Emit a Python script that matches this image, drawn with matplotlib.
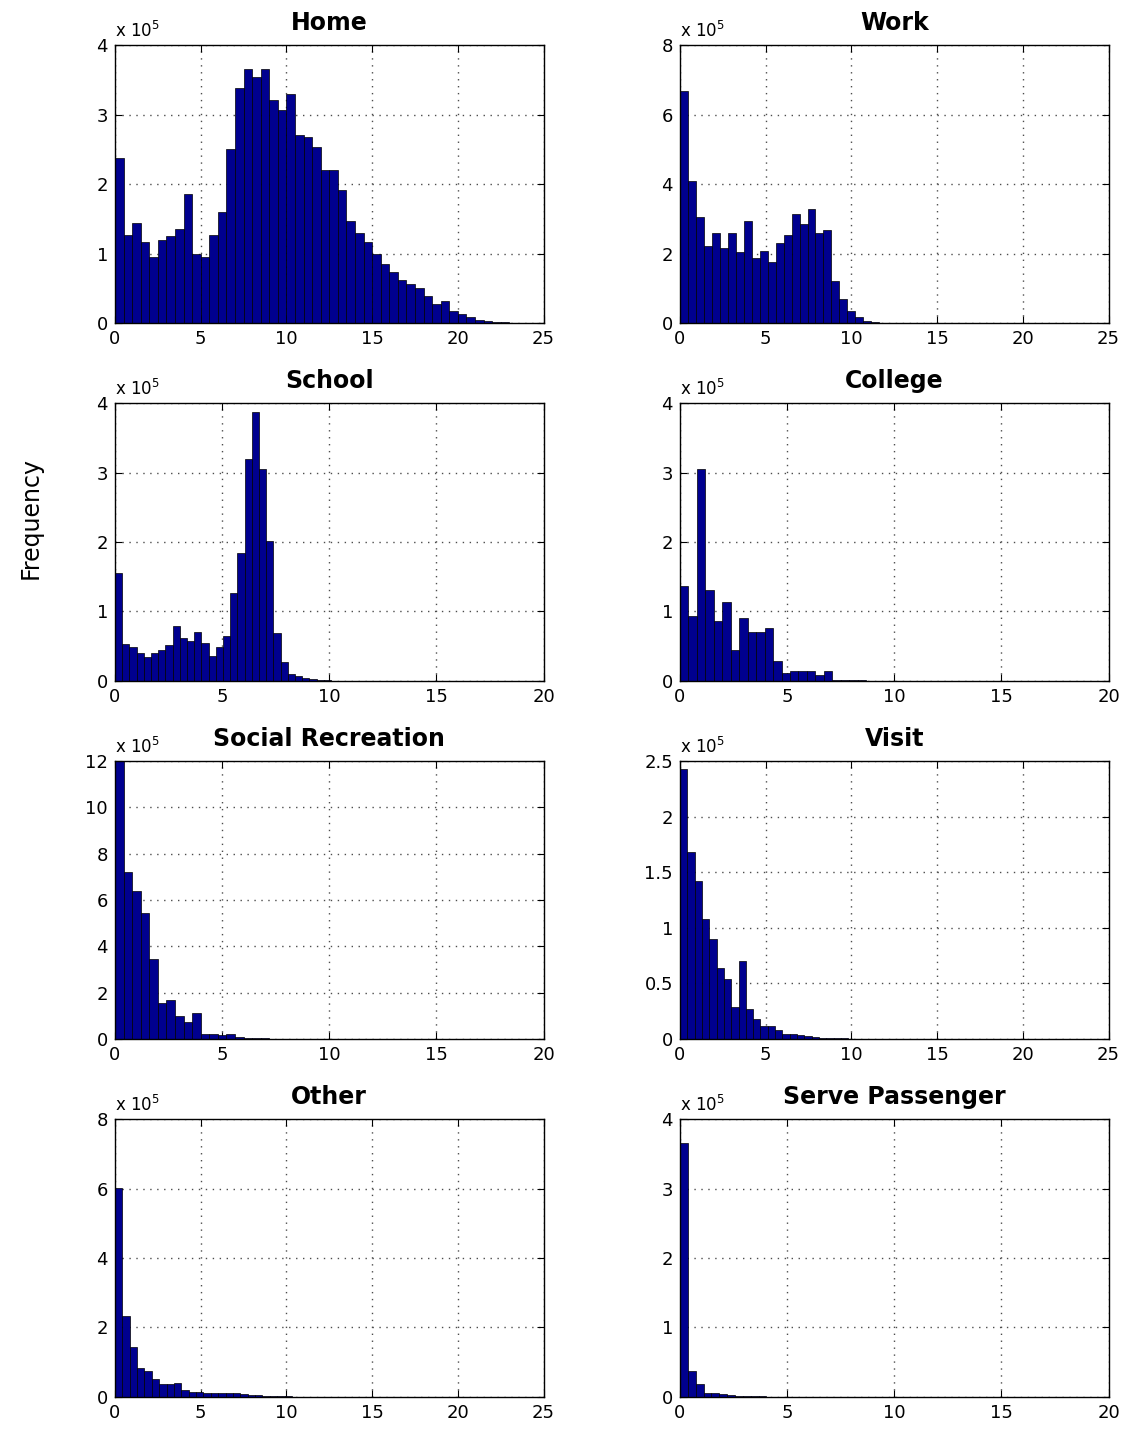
import matplotlib
matplotlib.use("Agg")
import matplotlib.pyplot as plt
import numpy as np

# histogram counts, in units of 1e5 trips; bins start at 0
titles = ["Home", "Work", "School", "College",
          "Social Recreation", "Visit", "Other", "Serve Passenger"]

home = [2.37, 1.26, 1.44, 1.17, 0.95, 1.20, 1.25, 1.35, 1.85, 1.00,
        0.95, 1.27, 1.60, 2.50, 3.38, 3.65, 3.54, 3.65, 3.21, 3.07,
        3.30, 2.71, 2.67, 2.54, 2.20, 2.20, 1.92, 1.47, 1.29, 1.17,
        1.00, 0.85, 0.73, 0.62, 0.56, 0.51, 0.39, 0.28, 0.31, 0.17,
        0.13, 0.09, 0.05, 0.03, 0.015, 0.01, 0.005, 0.003, 0.002, 0.001]
work = [6.68, 4.10, 3.04, 2.23, 2.59, 2.16, 2.59, 2.04, 2.94, 1.87,
        2.07, 1.76, 2.30, 2.52, 3.13, 2.84, 3.29, 2.59, 2.67, 1.20,
        0.69, 0.35, 0.16, 0.07, 0.02, 0.01, 0.008, 0.006, 0.005, 0.004,
        0.003, 0.003, 0.002, 0.002, 0.002, 0.001, 0.001, 0.001, 0.001, 0.001]
school = [1.55, 0.53, 0.49, 0.40, 0.35, 0.40, 0.45, 0.52, 0.79, 0.62,
          0.58, 0.70, 0.55, 0.36, 0.49, 0.65, 1.27, 1.84, 3.20, 3.87,
          3.05, 2.02, 0.69, 0.27, 0.10, 0.07, 0.05, 0.035, 0.02, 0.01,
          0.006, 0.004, 0.003, 0.002, 0.001]
college = [1.37, 0.94, 3.05, 1.31, 0.86, 1.14, 0.45, 0.90, 0.71, 0.70,
           0.76, 0.29, 0.12, 0.15, 0.15, 0.15, 0.09, 0.14, 0.02, 0.02,
           0.015, 0.01, 0.005, 0.003, 0.002]
social = [12.3, 7.22, 6.38, 5.42, 3.46, 1.56, 1.70, 1.01, 0.72, 1.12,
          0.23, 0.23, 0.16, 0.22, 0.07, 0.05, 0.03, 0.02, 0.015, 0.01,
          0.008, 0.006, 0.004, 0.003, 0.002]
visit = [2.43, 1.68, 1.42, 1.08, 0.90, 0.64, 0.54, 0.29, 0.70, 0.27,
         0.18, 0.12, 0.12, 0.084, 0.048, 0.042, 0.033, 0.024, 0.018, 0.012,
         0.009, 0.006, 0.005, 0.004, 0.003, 0.002, 0.002, 0.001]
other = [6.02, 2.34, 1.43, 0.84, 0.74, 0.53, 0.37, 0.37, 0.39, 0.19,
         0.15, 0.14, 0.12, 0.11, 0.11, 0.12, 0.10, 0.08, 0.07, 0.05,
         0.04, 0.03, 0.02, 0.015, 0.01, 0.008, 0.005, 0.003]
serve = [3.66, 0.376, 0.19, 0.063, 0.053, 0.04, 0.03, 0.02, 0.015, 0.01,
         0.008, 0.006, 0.004, 0.003, 0.002]

counts = [home, work, school, college, social, visit, other, serve]
bin_width = [0.5, 0.465, 0.336, 0.395, 0.40, 0.427, 0.43, 0.367]
xmax = [25, 25, 20, 20, 20, 25, 25, 20]
ymax = [4, 8, 4, 4, 12, 2.5, 8, 4]
ystep = [1, 2, 1, 1, 2, 0.5, 2, 1]

bar_color = "#00008f"

fig = plt.figure(figsize=(11.25, 14.4), dpi=100)
lefts = [0.1022, 0.6044]
# rows a little tighter than the original so the bottom tick labels fit
bottoms = [0.7757, 0.5271, 0.2785, 0.0299]

for i in range(8):
    row, col = divmod(i, 2)
    ax = fig.add_axes([lefts[col], bottoms[row], 0.381, 0.193])
    c = np.array(counts[i])
    edges = np.arange(len(c)) * bin_width[i]
    ax.bar(edges, c, width=bin_width[i], align="edge", color=bar_color,
           edgecolor="black", linewidth=0.5, zorder=2)
    ax.set_xlim(0, xmax[i])
    ax.set_ylim(0, ymax[i])
    ax.set_xticks(np.arange(0, xmax[i] + 1, 5))
    yt = np.arange(0, ymax[i] + ystep[i] / 2, ystep[i])
    ax.set_yticks(yt)
    ax.set_yticklabels(["%g" % v for v in yt])
    ax.grid(True, linestyle=(0, (1, 4)), color="0.3", linewidth=1.0, zorder=0)
    ax.set_axisbelow(True)
    ax.tick_params(direction="in", top=True, right=True, labelsize=13,
                   length=5, width=0.8)
    ax.tick_params(axis="x", pad=5)
    ax.tick_params(axis="y", pad=5)
    for s in ax.spines.values():
        s.set_linewidth(1.0)
    ax.set_title(titles[i], fontsize=17, fontweight="bold", pad=11)
    ax.text(0.0, 1.015, r"x 10$^5$", transform=ax.transAxes, fontsize=12,
            ha="left", va="bottom")

fig.text(0.027, 0.64, "Frequency", rotation=90, fontsize=17,
         ha="center", va="center")

fig.savefig("out.png", dpi=100)
